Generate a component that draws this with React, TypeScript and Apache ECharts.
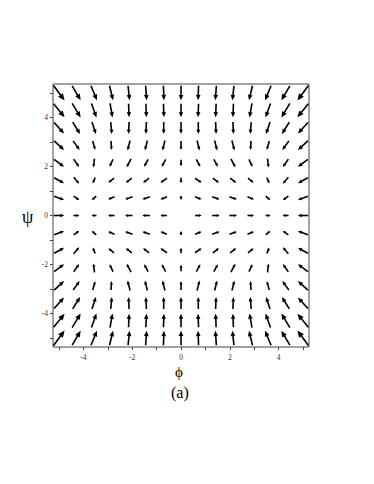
import React, { useEffect, useRef } from "react";
import * as echarts from "echarts";

// grid positions of the arrows (phi across, psi from top to bottom)
const X_GRID = [-5, -4.29, -3.57, -2.86, -2.14, -1.43, -0.71, 0, 0.71, 1.43, 2.14, 2.86, 3.57, 4.29, 5];
const Y_GRID = [5, 4.29, 3.57, 2.86, 2.14, 1.43, 0.71, 0, -0.71, -1.43, -2.14, -2.86, -3.57, -4.29, -5];

// horizontal component of each arrow (rows follow Y_GRID)
const U = [
  [11, 8.5, 6, 3.5, 1.5, 1, 0.5, 0, -0.5, -1, -1.5, -3.5, -6, -8.5, -11],
  [11, 8.5, 5, 2.5, 0.5, 0.5, 0.5, 0, -0.5, -0.5, -0.5, -2.5, -5, -8.5, -11],
  [10, 7.5, 4, 1, -0.5, -0.5, 0, 0, 0, 0.5, 0.5, -1, -4, -7.5, -10],
  [10, 6.5, 2.5, 0.5, -2.5, -2.5, -2.5, 0, 2.5, 2.5, 2.5, -0.5, -2.5, -6.5, -10],
  [10, 5.5, -1, -3.5, -4.5, -4, -4, 0, 4, 4, 4.5, 3.5, 1, -5.5, -10],
  [10, 5.5, -2.5, -5.5, -6, -6, -6.5, 0, 6.5, 6, 6, 5.5, 2.5, -5.5, -10],
  [10, 5.5, -4.5, -6.5, -7.5, -7.5, -6.5, 0, 6.5, 7.5, 7.5, 6.5, 4.5, -5.5, -10],
  [10.5, 6, -5, -6.5, -7.5, -7.5, -6.5, 0, 6.5, 7.5, 7.5, 6.5, 5, -6, -10.5],
  [10, 5.5, -4.5, -6.5, -7.5, -7.5, -6.5, 0, 6.5, 7.5, 7.5, 6.5, 4.5, -5.5, -10],
  [10, 5.5, -2.5, -5.5, -6, -6, -6.5, 0, 6.5, 6, 6, 5.5, 2.5, -5.5, -10],
  [10, 5.5, -1, -3.5, -4.5, -4, -4, 0, 4, 4, 4.5, 3.5, 1, -5.5, -10],
  [10, 6.5, 2.5, 0.5, -2.5, -2.5, -2.5, 0, 2.5, 2.5, 2.5, -0.5, -2.5, -6.5, -10],
  [10, 7.5, 4, 1, -0.5, -0.5, 0, 0, 0, 0.5, 0.5, -1, -4, -7.5, -10],
  [11, 8.5, 5, 2.5, 0.5, 0.5, 0.5, 0, -0.5, -0.5, -0.5, -2.5, -5, -8.5, -11],
  [11, 8.5, 6, 3.5, 1.5, 1, 0.5, 0, -0.5, -1, -1.5, -3.5, -6, -8.5, -11],
];

// vertical component of each arrow (positive = up)
const V = [
  [-15, -14.5, -14.5, -14.5, -14.5, -14.5, -14.5, -14.5, -14.5, -14.5, -14.5, -14.5, -14.5, -14.5, -15],
  [-13.5, -14, -14, -14, -13.5, -13.5, -13.5, -13.5, -13.5, -13.5, -13.5, -14, -14, -14, -13.5],
  [-11, -12, -12, -12, -12, -12, -12, -12, -12, -12, -12, -12, -12, -12, -11],
  [-9, -9, -9, -9, -10, -10, -10, -9, -10, -10, -10, -9, -9, -9, -9],
  [-7.5, -8, -9, -7.5, -8.5, -7.5, -7.5, -6.5, -7.5, -7.5, -8.5, -7.5, -9, -8, -7.5],
  [-5.5, -6.5, -6, -4.5, -4.5, -4.5, -4.5, -5.5, -4.5, -4.5, -4.5, -4.5, -6, -6.5, -5.5],
  [-3.5, -4, -4, -2.5, -2.5, -2.5, -2.5, -4, -2.5, -2.5, -2.5, -2.5, -4, -4, -3.5],
  [0, 0, 0, 0, 0, 0, 0, 0, 0, 0, 0, 0, 0, 0, 0],
  [3.5, 4, 4, 2.5, 2.5, 2.5, 2.5, 4, 2.5, 2.5, 2.5, 2.5, 4, 4, 3.5],
  [5.5, 6.5, 6, 4.5, 4.5, 4.5, 4.5, 5.5, 4.5, 4.5, 4.5, 4.5, 6, 6.5, 5.5],
  [7.5, 8, 9, 7.5, 8.5, 7.5, 7.5, 6.5, 7.5, 7.5, 8.5, 7.5, 9, 8, 7.5],
  [9, 9, 9, 9, 10, 10, 10, 9, 10, 10, 10, 9, 9, 9, 9],
  [11, 12, 12, 12, 12, 12, 12, 12, 12, 12, 12, 12, 12, 12, 11],
  [13.5, 14, 14, 14, 13.5, 13.5, 13.5, 13.5, 13.5, 13.5, 13.5, 14, 14, 14, 13.5],
  [15, 14.5, 14.5, 14.5, 14.5, 14.5, 14.5, 14.5, 14.5, 14.5, 14.5, 14.5, 14.5, 14.5, 15],
];

const TICK_VALUES = [-5, -4, -3, -2, -1, 0, 1, 2, 3, 4, 5];
const LABEL_VALUES = [-4, -2, 0, 2, 4];
const X_NAME = "ϕ";
const Y_NAME = "ψ";
const CAPTION = "(a)";

const VEC_SCALE = 1 / 24.45;
const SERIF = "'Liberation Serif', 'Times New Roman', serif";

export default function App() {
  const ref = useRef<HTMLDivElement>(null);
  useEffect(() => {
    document.body.style.margin = "0";
    if (!ref.current) return;
    const chart = echarts.init(ref.current, null, { renderer: "svg" });
    const data: number[][] = [];
    Y_GRID.forEach((y, r) => {
      X_GRID.forEach((x, c) => {
        data.push([x, y, U[r][c], V[r][c]]);
      });
    });
    const axisCommon = {
      type: "value" as const,
      axisLine: { show: false, onZero: false },
      splitLine: { show: false },
      axisTick: { show: true, customValues: TICK_VALUES, length: 3, lineStyle: { color: "#444", width: 1 } },
      axisLabel: { customValues: LABEL_VALUES, fontSize: 7.5, fontFamily: SERIF, color: "#333" },
    };
    chart.setOption({
      animation: false,
      grid: { left: 53, top: 84, width: 256, height: 263, show: true, borderColor: "#444", borderWidth: 1 },
      xAxis: { ...axisCommon, position: "bottom", min: -5.25, max: 5.25, axisLabel: { ...axisCommon.axisLabel, margin: 6 } },
      yAxis: { ...axisCommon, position: "left", min: -5.37, max: 5.37, axisLabel: { ...axisCommon.axisLabel, margin: 5 } },
      graphic: [
        { type: "text", left: 175, top: 364, style: { text: X_NAME, font: `15px ${SERIF}`, fill: "#000" } },
        { type: "text", left: 22, top: 208, style: { text: Y_NAME, font: `18px ${SERIF}`, fill: "#000" } },
        { type: "text", left: 171, top: 384, style: { text: CAPTION, font: `16px ${SERIF}`, fill: "#000" } },
      ],
      series: [
        {
          type: "custom",
          coordinateSystem: "cartesian2d",
          encode: { x: 0, y: 1 },
          data,
          renderItem: (params: any, api: any) => {
            const x = api.value(0), y = api.value(1), u = api.value(2), v = api.value(3);
            if (u === 0 && v === 0) return { type: "group", children: [] };
            const h = VEC_SCALE / 2;
            const p0 = api.coord([x - u * h, y - v * h]);
            const p1 = api.coord([x + u * h, y + v * h]);
            const dx = p1[0] - p0[0], dy = p1[1] - p0[1];
            const L = Math.hypot(dx, dy);
            const ux = dx / L, uy = dy / L;
            const hl = Math.max(2.8, L * 0.37);
            const hw = Math.max(1.5, L * 0.16);
            const bx = p1[0] - ux * hl, by = p1[1] - uy * hl;
            return {
              type: "group",
              children: [
                {
                  type: "line",
                  shape: { x1: p0[0], y1: p0[1], x2: p1[0] - ux * hl * 0.7, y2: p1[1] - uy * hl * 0.7 },
                  style: { stroke: "#000", lineWidth: 1.6 },
                },
                {
                  type: "polygon",
                  shape: { points: [[p1[0], p1[1]], [bx - uy * hw, by + ux * hw], [bx + uy * hw, by - ux * hw]] },
                  style: { fill: "#000" },
                },
              ],
            };
          },
        },
      ],
    });
    return () => chart.dispose();
  }, []);
  return <div ref={ref} style={{ width: 374, height: 484 }} />;
}
